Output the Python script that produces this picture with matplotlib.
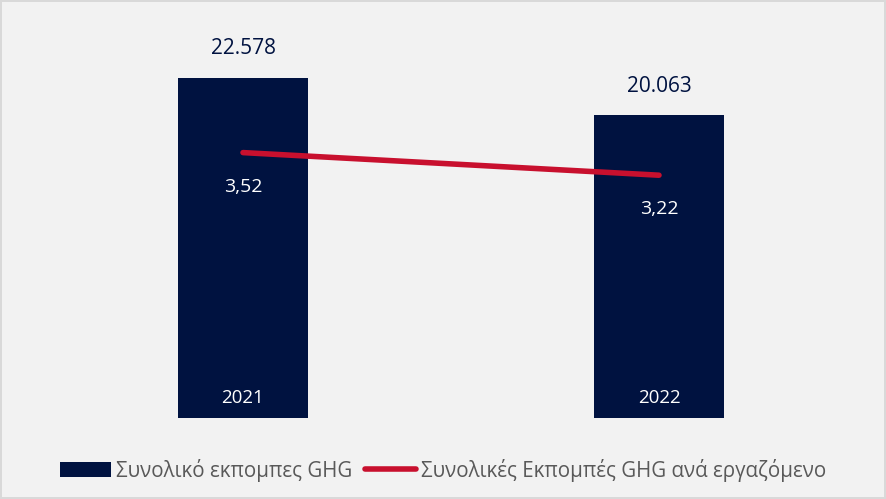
import matplotlib
matplotlib.use('Agg')
import matplotlib.pyplot as plt
from matplotlib.patches import Patch
from matplotlib.lines import Line2D

# Δεδομένα
years = ['2021', '2022']
total_ghg = [22578, 20063]
ghg_per_employee = [3.52, 3.22]
legend_labels = ['Συνολικό εκπομπες GHG', 'Συνολικές Εκπομπές GHG ανά εργαζόμενο']

navy = '#001240'
red = '#c8102e'
bg = '#f2f2f2'

plt.rcParams['font.family'] = ['Open Sans', 'DejaVu Sans']

fig = plt.figure(figsize=(8.86, 4.99), dpi=100, facecolor=bg)
fig.patch.set_edgecolor('#d9d9d9')
fig.patch.set_linewidth(1.5)

ax = fig.add_axes([35 / 886, 81 / 499, 832 / 886, 377 / 499])
ax.set_facecolor('none')
x = list(range(len(years)))
bars = ax.bar(x, total_ghg, width=0.3125, color=navy, zorder=2)
ax.set_xlim(-0.5, len(years) - 0.5)
ax.set_ylim(0, 25000)
ax.axis('off')

# Τιμές πάνω από τις μπάρες και έτη μέσα στις μπάρες
for xi, val, yr in zip(x, total_ghg, years):
    ax.annotate(f'{val:,}'.replace(',', '.'), (xi, val), xytext=(0, 13),
                textcoords='offset points', ha='center', va='bottom',
                fontsize=15, color=navy)
    ax.annotate(yr, (xi, 0), xytext=(0, 8), textcoords='offset points',
                ha='center', va='bottom', fontsize=13.5, color='white')

ax2 = ax.twinx()
ax2.set_ylim(0, 5)
ax2.axis('off')
ax2.plot(x, ghg_per_employee, color=red, linewidth=4, solid_capstyle='round', zorder=3)
for xi, val in zip(x, ghg_per_employee):
    ax2.annotate(f'{val:.2f}'.replace('.', ','), (xi, val), xytext=(0, -18),
                 textcoords='offset points', ha='center', va='top',
                 fontsize=14, color='white')

handles = [Patch(facecolor=navy, edgecolor='none'),
           Line2D([0], [0], color=red, linewidth=4, solid_capstyle='round')]
fig.legend(handles, legend_labels, loc='center', bbox_to_anchor=(0.5, 29 / 499),
           ncol=2, frameon=False, fontsize=14.8, labelcolor='#595959',
           handlelength=2.5, handletextpad=0.25, columnspacing=0.6)

fig.savefig('out.png', dpi=100, facecolor=bg, edgecolor='#d9d9d9')
